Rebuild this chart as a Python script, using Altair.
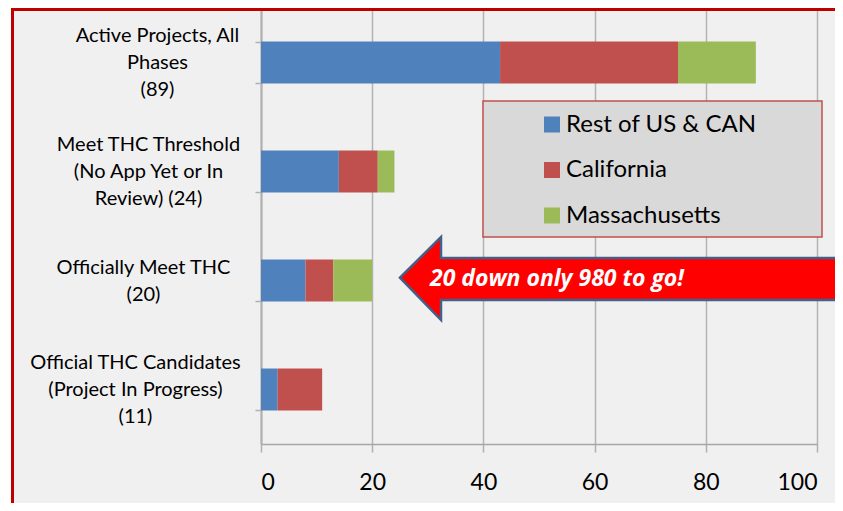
import altair as alt
import pandas as pd

# ---- data ----
categories = [
    "Active Projects, All|Phases|(89)",
    "Meet THC Threshold|(No App Yet or In|Review) (24)",
    "Officially Meet THC|(20)",
    "Official THC Candidates|(Project In Progress)|(11)",
]
series = ["Rest of US & CAN", "California", "Massachusetts"]
rest_us_can = [43, 14, 8, 3]
california = [32, 7, 5, 8]
massachusetts = [14, 3, 7, 0]
colors = ["#4f81bd", "#c0504d", "#9bbb59"]
x_ticks = [0, 20, 40, 60, 80, 100]

annotation_text = "20 down only 980 to go!"
annotation_category = categories[2]
arrow_tip_x = 25
text_start_x = 30.4

rows = []
for s_i, (name, vals) in enumerate(zip(series, [rest_us_can, california, massachusetts])):
    for cat, v in zip(categories, vals):
        rows.append({"cat": cat, "series": name, "value": v, "order": s_i})
df = pd.DataFrame(rows)

ann_df = pd.DataFrame({"cat": [annotation_category], "tip": [arrow_tip_x],
                       "tx": [text_start_x], "label": [annotation_text]})
one = pd.DataFrame({"k": [0]})

FONT = "Lato"
LINE_H = 27

pad_test = [
    (f"datum.value == '{categories[0]}'", 98),
    (f"datum.value == '{categories[1]}'", 107),
    (f"datum.value == '{categories[2]}'", 112),
]

y_axis = alt.Axis(
    title=None,
    labelExpr="split(datum.label, '|')",
    labelAlign="center",
    labelBaseline="middle",
    labelLineHeight=LINE_H,
    labelFont=FONT,
    labelFontSize=20,
    labelColor="#000000",
    labelPadding={"condition": [{"test": t, "value": v} for t, v in pad_test], "value": 120},
    labelOffset={"condition": [{"test": f"datum.value == '{categories[2]}'",
                                "value": -LINE_H / 2}], "value": -LINE_H},
    tickBand="extent",
    tickSize=6,
    tickColor="#b0b0b0",
    tickWidth=1.5,
    domainColor="#b0b0b0",
    domainWidth=2,
    grid=False,
    labelLimit=400,
)

y_enc = alt.Y("cat:N", sort=categories,
              scale=alt.Scale(paddingInner=0.615, paddingOuter=0.3075),
              axis=y_axis)

bars = alt.Chart(df).mark_bar(stroke=None).encode(
    y=y_enc,
    x=alt.X("sum(value):Q",
            scale=alt.Scale(domain=[0, 100], nice=False),
            axis=alt.Axis(title=None, values=x_ticks, grid=True, gridColor="#b3b3b3",
                          gridWidth=1.5, domainColor="#a6a6a6", domainWidth=1.5,
                          tickColor="#b0b0b0", tickSize=8, tickWidth=1.5,
                          labelFont=FONT, labelFontSize=23, labelColor="#000000",
                          labelPadding=19)),
    color=alt.Color("series:N",
                    scale=alt.Scale(domain=series, range=colors),
                    legend=alt.Legend(title=None, orient="none", legendX=279, legendY=104.5,
                                      padding=0, symbolType="square", symbolSize=256,
                                      symbolStrokeWidth=0, labelFont=FONT, labelFontSize=24,
                                      labelColor="#000000", labelOffset=2, rowPadding=21.5,
                                      labelLimit=400)),
    order=alt.Order("order:Q"),
)

legend_box = alt.Chart(one).mark_rect(fill="#d9d9d9", stroke="#c0504d", strokeWidth=1.5).encode(
    x=alt.value(222), x2=alt.value(561), y=alt.value(93), y2=alt.value(229))

arrow_path = ("M 0 -0.028 L 0.41 -0.435 L 0.41 -0.225 L 4.7 -0.225 "
              "L 4.7 0.195 L 0.41 0.195 L 0.41 0.395 Z")
arrow = alt.Chart(ann_df).mark_point(shape=arrow_path, size=40000, filled=True,
                                     fill="#ff0000", fillOpacity=1, opacity=1,
                                     stroke="#41608a", strokeWidth=2.5).encode(
    x=alt.X("tip:Q"), y=alt.Y("cat:N", sort=categories))

ann_text = alt.Chart(ann_df).mark_text(align="left", baseline="middle", font="Open Sans",
                                       fontSize=23, fontWeight="bold", fontStyle="italic",
                                       color="#ffffff", dy=-2).encode(
    x=alt.X("tx:Q"), y=alt.Y("cat:N", sort=categories), text="label:N")

# red frame: only its left and top edges fall inside the picture
border_left = alt.Chart(one).mark_rule(color="#c00000", strokeWidth=3).encode(
    x=alt.value(-248.5), y=alt.value(0), y2=alt.value(500))
border_top = alt.Chart(one).mark_rule(color="#c00000", strokeWidth=3).encode(
    x=alt.value(-250), x2=alt.value(580), y=alt.value(1.5))

white_strip = alt.Chart(one).mark_rect(fill="#ffffff", stroke=None).encode(
    x=alt.value(-253), x2=alt.value(-250), y=alt.value(0), y2=alt.value(500))

chart = alt.layer(legend_box, bars, arrow, ann_text, border_left, border_top,
                  white_strip).properties(
    width=556, height=436,
    autosize=alt.AutoSizeParams(type="none"),
    padding={"left": 253, "top": 0, "right": 18, "bottom": 59},
).configure(background="#f0f0f0").configure_view(stroke=None)

chart.save("out.html", embed_options={"renderer": "svg", "actions": False})
